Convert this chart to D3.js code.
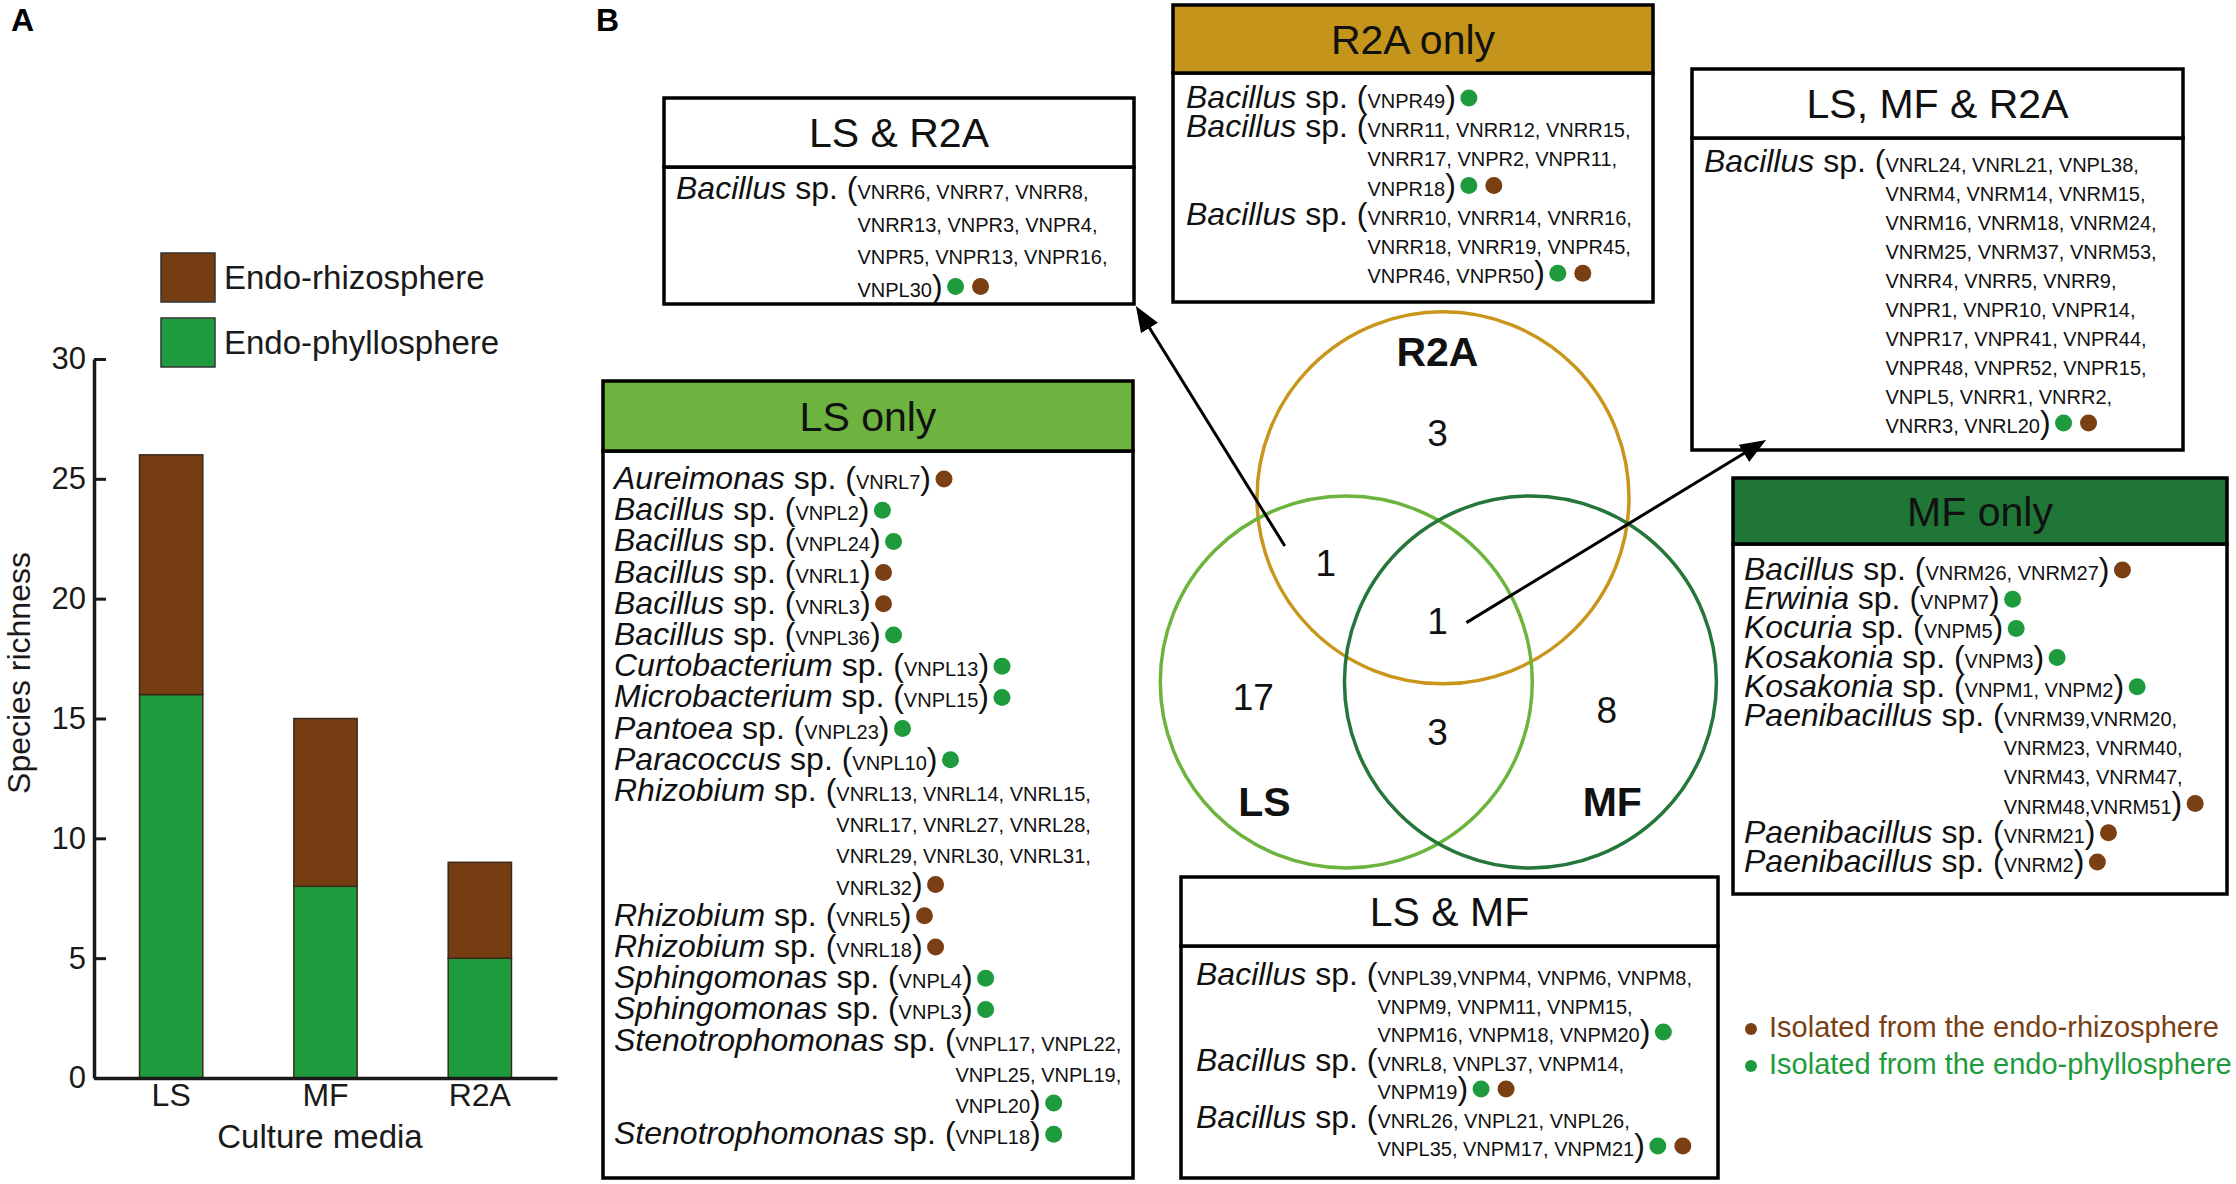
<!DOCTYPE html>
<html>
<head>
<meta charset="utf-8">
<script src="https://cdn.jsdelivr.net/npm/d3@7"></script>
<style>
body { margin: 0; background: #fff; }
svg { display: block; font-family: "Liberation Sans", Arial, sans-serif; white-space: pre; }
</style>
</head>
<body>
<svg id="fig" width="2236" height="1184"></svg>
<script>
// ---- panel A data
var media = ["LS", "MF", "R2A"];
var phyllo = [16, 8, 5];
var rhizo = [10, 7, 4];
var yTicks = [0, 5, 10, 15, 20, 25, 30];
var legendA = ["Endo-rhizosphere", "Endo-phyllosphere"];

// ---- panel B data
var vennSets = ["R2A", "LS", "MF"];
var vennRegions = ["R2A only", "LS & R2A", "LS, MF & R2A", "LS only", "LS & MF", "MF only"];
var vennCounts = [3, 1, 1, 17, 3, 8];

// P = endo-phyllosphere, R = endo-rhizosphere
var lsR2a = [
  {genus: "Bacillus", strains: ["VNRR6, VNRR7, VNRR8,", "VNRR13, VNPR3, VNPR4,", "VNPR5, VNPR13, VNPR16,", "VNPL30"], src: "PR"}
];
var r2aOnly = [
  {genus: "Bacillus", strains: ["VNPR49"], src: "P"},
  {genus: "Bacillus", strains: ["VNRR11, VNRR12, VNRR15,", "VNRR17, VNPR2, VNPR11,", "VNPR18"], src: "PR"},
  {genus: "Bacillus", strains: ["VNRR10, VNRR14, VNRR16,", "VNRR18, VNRR19, VNPR45,", "VNPR46, VNPR50"], src: "PR"}
];
var allThree = [
  {genus: "Bacillus", strains: ["VNRL24, VNRL21, VNPL38,", "VNRM4, VNRM14, VNRM15,", "VNRM16, VNRM18, VNRM24,",
    "VNRM25, VNRM37, VNRM53,", "VNRR4, VNRR5, VNRR9,", "VNPR1, VNPR10, VNPR14,", "VNPR17, VNPR41, VNPR44,",
    "VNPR48, VNPR52, VNPR15,", "VNPL5, VNRR1, VNRR2,", "VNRR3, VNRL20"], src: "PR"}
];
var lsOnly = [
  {genus: "Aureimonas", strains: ["VNRL7"], src: "R"},
  {genus: "Bacillus", strains: ["VNPL2"], src: "P"},
  {genus: "Bacillus", strains: ["VNPL24"], src: "P"},
  {genus: "Bacillus", strains: ["VNRL1"], src: "R"},
  {genus: "Bacillus", strains: ["VNRL3"], src: "R"},
  {genus: "Bacillus", strains: ["VNPL36"], src: "P"},
  {genus: "Curtobacterium", strains: ["VNPL13"], src: "P"},
  {genus: "Microbacterium", strains: ["VNPL15"], src: "P"},
  {genus: "Pantoea", strains: ["VNPL23"], src: "P"},
  {genus: "Paracoccus", strains: ["VNPL10"], src: "P"},
  {genus: "Rhizobium", strains: ["VNRL13, VNRL14, VNRL15,", "VNRL17, VNRL27, VNRL28,", "VNRL29, VNRL30, VNRL31,", "VNRL32"], src: "R"},
  {genus: "Rhizobium", strains: ["VNRL5"], src: "R"},
  {genus: "Rhizobium", strains: ["VNRL18"], src: "R"},
  {genus: "Sphingomonas", strains: ["VNPL4"], src: "P"},
  {genus: "Sphingomonas", strains: ["VNPL3"], src: "P"},
  {genus: "Stenotrophomonas", strains: ["VNPL17, VNPL22,", "VNPL25, VNPL19,", "VNPL20"], src: "P"},
  {genus: "Stenotrophomonas", strains: ["VNPL18"], src: "P"}
];
var mfOnly = [
  {genus: "Bacillus", strains: ["VNRM26, VNRM27"], src: "R"},
  {genus: "Erwinia", strains: ["VNPM7"], src: "P"},
  {genus: "Kocuria", strains: ["VNPM5"], src: "P"},
  {genus: "Kosakonia", strains: ["VNPM3"], src: "P"},
  {genus: "Kosakonia", strains: ["VNPM1, VNPM2"], src: "P"},
  {genus: "Paenibacillus", strains: ["VNRM39,VNRM20,", "VNRM23, VNRM40,", "VNRM43, VNRM47,", "VNRM48,VNRM51"], src: "R"},
  {genus: "Paenibacillus", strains: ["VNRM21"], src: "R"},
  {genus: "Paenibacillus", strains: ["VNRM2"], src: "R"}
];
var lsMf = [
  {genus: "Bacillus", strains: ["VNPL39,VNPM4, VNPM6, VNPM8,", "VNPM9, VNPM11, VNPM15,", "VNPM16, VNPM18, VNPM20"], src: "P"},
  {genus: "Bacillus", strains: ["VNRL8, VNPL37, VNPM14,", "VNPM19"], src: "PR"},
  {genus: "Bacillus", strains: ["VNRL26, VNPL21, VNPL26,", "VNPL35, VNPM17, VNPM21"], src: "PR"}
];
var legendB = ["Isolated from the endo-rhizosphere", "Isolated from the endo-phyllosphere"];

var GREEN = "#1e9b3d", BROWN = "#7a3f13";
var svg = d3.select("#fig");
svg.append("rect").attr("width", 2236).attr("height", 1184).attr("fill", "#fff");

// ================= Panel A =================
svg.append("text").attr("x", 11).attr("y", 31).attr("font-size", 32).attr("font-weight", "bold").text("A");

var x = d3.scaleBand().domain(media).range([94, 557]).paddingInner(0.59).paddingOuter(0.295);
var y = d3.scaleLinear().domain([0, 30]).range([1078, 359]);

var rows = media.map(function(m, i) { return {m: m, phyllo: phyllo[i], rhizo: rhizo[i]}; });
var stacked = d3.stack().keys(["phyllo", "rhizo"])(rows);
var barCol = {phyllo: GREEN, rhizo: "#763d12"};

svg.append("g").selectAll("g").data(stacked).join("g")
  .attr("fill", function(d) { return barCol[d.key]; })
  .selectAll("rect").data(function(d) { return d; }).join("rect")
  .attr("x", function(d) { return x(d.data.m); })
  .attr("y", function(d) { return y(d[1]); })
  .attr("width", x.bandwidth())
  .attr("height", function(d) { return y(d[0]) - y(d[1]); })
  .attr("stroke", "#3b2a1c").attr("stroke-width", 1.5);

var yAxis = svg.append("g").attr("transform", "translate(94,0)")
  .call(d3.axisLeft(y).tickValues(yTicks).tickSize(-12).tickSizeOuter(0).tickPadding(8))
  .attr("font-family", null).attr("font-size", null);
yAxis.select(".domain").attr("stroke", "#1a1a1a").attr("stroke-width", 3.5);
yAxis.selectAll(".tick line").attr("stroke", "#1a1a1a").attr("stroke-width", 3);
yAxis.selectAll(".tick text").attr("font-size", 31).attr("fill", "#1a1a1a");

var xAxis = svg.append("g").attr("transform", "translate(0," + y(0) + ")")
  .call(d3.axisBottom(x).tickSize(0).tickSizeOuter(0).tickPadding(5))
  .attr("font-family", null).attr("font-size", null);
xAxis.select(".domain").attr("stroke", "#1a1a1a").attr("stroke-width", 3.5);
xAxis.selectAll(".tick text").attr("font-size", 32).attr("fill", "#1a1a1a");

svg.append("text").attr("x", 320).attr("y", 1148).attr("text-anchor", "middle")
  .attr("font-size", 33).attr("fill", "#1a1a1a").text("Culture media");
svg.append("text").attr("transform", "translate(30,673) rotate(-90)").attr("text-anchor", "middle")
  .attr("font-size", 32).attr("fill", "#1a1a1a").text("Species richness");

var legA = svg.append("g").selectAll("g").data(legendA).join("g")
  .attr("transform", function(d, i) { return "translate(161," + (253 + i * 65) + ")"; });
legA.append("rect").attr("width", 54).attr("height", 49)
  .attr("fill", function(d, i) { return i === 0 ? "#763d12" : GREEN; })
  .attr("stroke", "#333").attr("stroke-width", 1.5);
legA.append("text").attr("x", 63).attr("y", 36).attr("font-size", 33).attr("fill", "#1a1a1a")
  .text(function(d) { return d; });

// ================= Panel B =================
svg.append("text").attr("x", 596).attr("y", 31).attr("font-size", 32).attr("font-weight", "bold").text("B");

var GEN = 32, STR = 20;

function drawBox(spec, entries) {
  var g = svg.append("g");
  g.append("rect").attr("x", spec.x).attr("y", spec.y + spec.hh).attr("width", spec.w).attr("height", spec.h - spec.hh)
    .attr("fill", "#fff").attr("stroke", "#000").attr("stroke-width", 3.5);
  g.append("rect").attr("x", spec.x).attr("y", spec.y).attr("width", spec.w).attr("height", spec.hh)
    .attr("fill", spec.fill).attr("stroke", "#000").attr("stroke-width", 3.5);
  g.append("text").attr("x", spec.x + spec.w / 2).attr("y", spec.y + spec.hh / 2 + 14.5)
    .attr("text-anchor", "middle").attr("font-size", 41).attr("fill", "#111").text(spec.title);

  var x0 = spec.x + spec.pad, line = 0;
  entries.forEach(function(e) {
    var yy = spec.y + spec.hh + spec.first + line * spec.gap;
    var t = g.append("text").attr("x", x0).attr("y", yy).attr("font-size", GEN).attr("fill", "#111");
    var a = t.append("tspan").attr("font-style", "italic").text(e.genus);
    var b = t.append("tspan").text(" sp. (");
    var indent = a.node().getComputedTextLength() + b.node().getComputedTextLength();
    var last = t, lastX = x0;
    e.strains.forEach(function(s, i) {
      var tt = t;
      if (i > 0) {
        tt = g.append("text").attr("x", x0 + indent).attr("y", yy + i * spec.gap)
          .attr("font-size", GEN).attr("fill", "#111");
      }
      tt.append("tspan").attr("font-size", STR).text(s);
      if (i === e.strains.length - 1) tt.append("tspan").text(")");
      last = tt;
      lastX = i === 0 ? x0 : x0 + indent;
    });
    var endX = lastX + last.node().getComputedTextLength();
    var dotY = yy + (e.strains.length - 1) * spec.gap - 10;
    e.src.split("").forEach(function(c, k) {
      g.append("circle").attr("cx", endX + 13 + k * 25).attr("cy", dotY).attr("r", 8.5)
        .attr("fill", c === "P" ? GREEN : BROWN);
    });
    line += e.strains.length;
  });
  return spec;
}

var boxLsR2a = drawBox({title: "LS & R2A", fill: "#fff", x: 664, y: 98, w: 470, h: 206, hh: 69, first: 32, gap: 32.5, pad: 12}, lsR2a);
drawBox({title: "R2A only", fill: "#c4951a", x: 1173, y: 5, w: 480, h: 297, hh: 68, first: 35, gap: 29.2, pad: 13}, r2aOnly);
var boxAll = drawBox({title: "LS, MF & R2A", fill: "#fff", x: 1692, y: 69, w: 491, h: 381, hh: 69, first: 34, gap: 29, pad: 12}, allThree);
drawBox({title: "LS only", fill: "#6db33f", x: 603, y: 381, w: 530, h: 797, hh: 70, first: 38, gap: 31.2, pad: 11}, lsOnly);
drawBox({title: "MF only", fill: "#1f7636", x: 1733, y: 478, w: 494, h: 416, hh: 66, first: 36, gap: 29.2, pad: 11}, mfOnly);
drawBox({title: "LS & MF", fill: "#fff", x: 1181, y: 877, w: 537, h: 301, hh: 69, first: 39, gap: 28.5, pad: 15}, lsMf);

// Venn diagram (unit coordinates, 1 unit = circle radius)
var vx = d3.scaleLinear().domain([-1, 1]).range([1443 - 186, 1443 + 186]);
var vy = d3.scaleLinear().domain([-1, 1]).range([682 - 186, 682 + 186]);
var circleUnits = {R2A: [0, -0.99], LS: [-0.52, 0], MF: [0.47, 0]};
var circleCol = {R2A: "#c9961b", LS: "#6cb43d", MF: "#25763a"};
var setLabelUnits = {R2A: [-0.03, -1.70], LS: [-0.96, 0.72], MF: [0.91, 0.72]};
var regionUnits = [[-0.03, -1.27], [-0.63, -0.57], [-0.03, -0.26], [-1.02, 0.15], [-0.03, 0.34], [0.88, 0.22]];

var venn = svg.append("g");
venn.selectAll("circle").data(vennSets).join("circle")
  .attr("cx", function(d) { return vx(circleUnits[d][0]); })
  .attr("cy", function(d) { return vy(circleUnits[d][1]); })
  .attr("r", vx(1) - vx(0))
  .attr("fill", "none").attr("stroke", function(d) { return circleCol[d]; }).attr("stroke-width", 3.5);
venn.selectAll("text.set").data(vennSets).join("text").attr("class", "set")
  .attr("x", function(d) { return vx(setLabelUnits[d][0]); })
  .attr("y", function(d) { return vy(setLabelUnits[d][1]); })
  .attr("text-anchor", "middle").attr("font-size", 41).attr("font-weight", "bold").attr("fill", "#111")
  .text(function(d) { return d; });
venn.selectAll("text.cnt").data(vennCounts).join("text").attr("class", "cnt")
  .attr("x", function(d, i) { return vx(regionUnits[i][0]); })
  .attr("y", function(d, i) { return vy(regionUnits[i][1]); })
  .attr("text-anchor", "middle").attr("font-size", 37).attr("fill", "#111")
  .text(function(d) { return d; });

// arrows from shared regions to their boxes
var defs = svg.append("defs");
defs.append("marker").attr("id", "head").attr("viewBox", "0 0 26 20").attr("refX", 20).attr("refY", 10)
  .attr("markerWidth", 26).attr("markerHeight", 20).attr("markerUnits", "userSpaceOnUse").attr("orient", "auto")
  .append("path").attr("d", "M0,0 L26,10 L0,20 Z").attr("fill", "#000");

var arrows = [
  {from: [vx(regionUnits[1][0]) - 41, vy(regionUnits[1][1]) - 30], to: [boxLsR2a.x + boxLsR2a.w + 5, boxLsR2a.y + boxLsR2a.h + 7]},
  {from: [vx(regionUnits[2][0]) + 29, vy(regionUnits[2][1]) - 11], to: [boxAll.x + 69, boxAll.y + boxAll.h - 7]}
];
svg.append("g").selectAll("line").data(arrows).join("line")
  .attr("x1", function(d) { return d.from[0]; }).attr("y1", function(d) { return d.from[1]; })
  .attr("x2", function(d) { return d.to[0]; }).attr("y2", function(d) { return d.to[1]; })
  .attr("stroke", "#000").attr("stroke-width", 3).attr("marker-end", "url(#head)");

// source legend
var legB = svg.append("g").selectAll("g").data(legendB).join("g")
  .attr("transform", function(d, i) { return "translate(1751," + (1037 + i * 37) + ")"; });
legB.append("circle").attr("cx", 0).attr("cy", -8).attr("r", 6)
  .attr("fill", function(d, i) { return i === 0 ? BROWN : GREEN; });
legB.append("text").attr("x", 18).attr("y", 0).attr("font-size", 29)
  .attr("fill", function(d, i) { return i === 0 ? BROWN : GREEN; })
  .text(function(d) { return d; });
</script>
</body>
</html>
